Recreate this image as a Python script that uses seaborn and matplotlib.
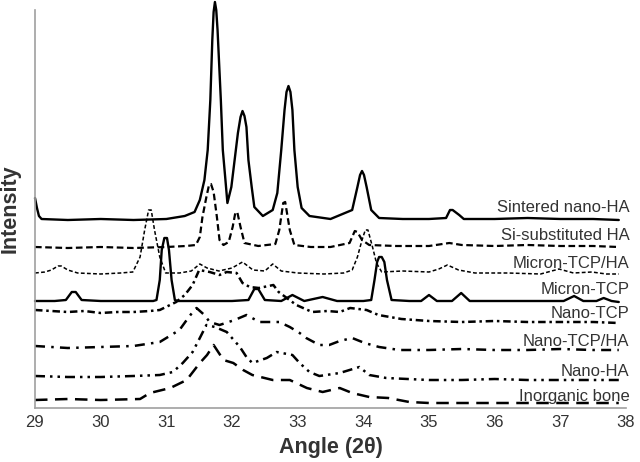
import seaborn as sns
import matplotlib.pyplot as plt

# XRD patterns, intensities (arbitrary units)
angle_sintered = [29.00, 29.03, 29.06, 29.10, 29.5, 30.0, 30.5, 31.0, 31.28, 31.43, 31.51, 31.58,
                  31.63, 31.67, 31.70, 31.72, 31.74, 31.76, 31.78, 31.83, 31.86, 31.90, 31.93,
                  31.99, 32.04, 32.09, 32.13, 32.16, 32.19, 32.22, 32.25, 32.30, 32.34, 32.47,
                  32.62, 32.69, 32.75, 32.80, 32.83, 32.86, 32.89, 32.92, 32.95, 33.00, 33.06,
                  33.18, 33.5, 33.83, 33.91, 33.95, 33.98, 34.01, 34.05, 34.12, 34.24, 34.6,
                  35.0, 35.26, 35.32, 35.36, 35.46, 35.53, 36.0, 36.5, 37.0, 37.5, 37.89]
int_sintered = [210, 200, 192, 189, 188, 189, 188, 189, 192, 196, 208, 228,
                258, 308, 368, 396, 406, 398, 378, 308, 258, 228, 205,
                221, 248, 275, 291, 297, 292, 281, 248, 221, 201, 192,
                198, 215, 258, 298, 316, 322, 316, 298, 258, 221, 200,
                192, 189, 198, 221, 233, 237, 233, 221, 198, 190, 189,
                189, 190, 198, 198, 193, 189, 189, 190, 189, 189, 188]

angle_si = [29.0, 29.5, 30.0, 30.5, 31.0, 31.3, 31.45, 31.51, 31.55, 31.61, 31.65, 31.68, 31.72,
            31.77, 31.81, 31.87, 31.95, 32.01, 32.05, 32.08, 32.13, 32.19, 32.4, 32.66, 32.72,
            32.78, 32.81, 32.88, 32.95, 33.2, 33.5, 33.79, 33.87, 33.91, 33.98, 34.09, 34.5,
            35.0, 35.31, 35.5, 36.0, 36.5, 37.0, 37.5, 37.89]
int_si = [161, 160, 161, 160, 161, 162, 163, 171, 191, 211, 223, 224, 216,
          191, 168, 163, 166, 181, 195, 196, 181, 165, 162, 164, 178,
          205, 206, 178, 163, 161, 161, 165, 177, 176, 168, 163, 162,
          162, 165, 163, 162, 163, 162, 162, 161]

angle_micron_tcp_ha = [29.0, 29.15, 29.25, 29.35, 29.40, 29.5, 29.65, 30.0, 30.3, 30.49, 30.60,
                       30.67, 30.73, 30.77, 30.82, 30.90, 30.99, 31.2, 31.38, 31.51, 31.62, 31.8,
                       32.0, 32.16, 32.32, 32.5, 32.62, 32.75, 33.0, 33.4, 33.7, 33.83, 33.91,
                       33.98, 34.03, 34.07, 34.14, 34.20, 34.28, 34.6, 35.0, 35.15, 35.28, 35.45,
                       35.7, 36.2, 36.7, 36.98, 37.2, 37.48, 37.7, 37.89]
int_micron_tcp_ha = [135, 136, 138, 142, 142, 138, 135, 134, 135, 136, 151,
                     178, 198, 198, 178, 151, 135, 135, 137, 144, 140, 137,
                     140, 146, 138, 137, 144, 137, 135, 134, 135, 138, 151,
                     168, 178, 178, 161, 145, 136, 137, 136, 139, 143, 138,
                     135, 135, 134, 139, 135, 136, 134, 134]

angle_micron_tcp = [29.0, 29.3, 29.47, 29.56, 29.62, 29.71, 30.0, 30.5, 30.80, 30.85, 30.90, 30.93,
                    30.97, 31.01, 31.04, 31.08, 31.13, 31.18, 31.6, 32.0, 32.25, 32.34, 32.40,
                    32.5, 32.75, 32.92, 33.1, 33.38, 33.6, 34.0, 34.12, 34.17, 34.21, 34.24,
                    34.28, 34.32, 34.36, 34.43, 34.7, 34.88, 35.0, 35.12, 35.35, 35.49, 35.62,
                    36.0, 36.5, 37.05, 37.21, 37.35, 37.55, 37.66, 37.78, 37.89]
int_micron_tcp = [107, 107, 108, 116, 116, 108, 107, 107, 107, 108, 128, 158,
                  170, 170, 158, 128, 108, 107, 107, 107, 108, 119, 119,
                  108, 107, 113, 107, 111, 107, 107, 108, 128, 146, 151,
                  151, 146, 128, 108, 107, 107, 113, 107, 107, 115, 107,
                  107, 107, 107, 112, 107, 107, 110, 107, 106]

angle_nano_tcp = [29.0, 29.25, 29.5, 29.75, 30.0, 30.25, 30.5, 30.75, 30.9, 31.15, 31.28, 31.4,
                  31.5, 31.66, 31.81, 31.92, 32.07, 32.16, 32.27, 32.41, 32.63, 32.71, 32.98,
                  33.22, 33.45, 33.64, 33.8, 34.05, 34.23, 34.58, 35.0, 35.5, 36.0, 36.5, 37.0,
                  37.5, 37.89]
int_nano_tcp = [98, 97, 96, 97, 95, 96, 96, 97, 98, 106, 113, 123,
                138, 136, 133, 136, 135, 125, 121, 120, 123, 116, 103,
                96, 97, 96, 100, 98, 93, 89, 87, 86, 87, 86, 86,
                86, 85]

angle_nano_tcp_ha = [29.0, 29.5, 30.0, 30.5, 30.6, 30.9, 31.2, 31.31, 31.39, 31.46, 31.58, 31.66,
                     31.81, 32.04, 32.22, 32.42, 32.72, 32.88, 33.03, 33.13, 33.33, 33.48, 33.64,
                     33.83, 34.02, 34.24, 34.55, 35.0, 35.5, 36.0, 36.5, 37.0, 37.5, 37.89]
int_nano_tcp_ha = [62, 60, 61, 62, 63, 66, 78, 88, 95, 100, 93, 86,
                   83, 88, 93, 86, 86, 81, 75, 70, 63, 63, 67,
                   70, 65, 61, 58, 58, 59, 58, 58, 59, 58, 58]

angle_nano_ha = [29.0, 29.5, 30.0, 30.5, 30.9, 31.1, 31.25, 31.4, 31.51, 31.61, 31.74, 31.92,
                 32.12, 32.22, 32.31, 32.53, 32.68, 32.92, 33.03, 33.18, 33.33, 33.64, 33.94,
                 34.09, 34.35, 35.0, 35.5, 36.0, 36.5, 37.0, 37.5, 37.89]
int_nano_ha = [32, 31, 31, 32, 33, 36, 45, 56, 70, 83, 81, 76,
               61, 51, 45, 50, 56, 53, 45, 36, 32, 35, 41,
               33, 30, 28, 28, 29, 28, 28, 28, 28]

angle_bone = [29.0, 29.5, 30.0, 30.6, 30.75, 31.06, 31.31, 31.51, 31.62, 31.72, 31.87, 32.02,
              32.17, 32.31, 32.62, 32.88, 33.14, 33.38, 33.64, 33.83, 34.09, 34.38, 34.7, 35.0,
              35.5, 36.0, 36.5, 37.0, 37.5, 37.89]
int_bone = [8, 9, 8, 9, 15, 20, 28, 45, 53, 63, 48, 45,
            38, 33, 28, 28, 20, 16, 20, 15, 11, 10, 6, 5,
            5, 5, 5, 5, 5, 5]

sample_names = ['Sintered nano-HA', 'Si-substituted HA', 'Micron-TCP/HA', 'Micron-TCP',
                'Nano-TCP', 'Nano-TCP/HA', 'Nano-HA', 'Inorganic bone']
label_heights = [200, 172, 145, 118, 95, 67, 36, 12]
x_ticks = [29, 30, 31, 32, 33, 34, 35, 36, 37, 38]

curves = [
    (angle_sintered, int_sintered, '-', 1.7),
    (angle_si, int_si, (0, (3, 1.6)), 1.6),
    (angle_micron_tcp_ha, int_micron_tcp_ha, (0, (2.5, 1.5)), 1.1),
    (angle_micron_tcp, int_micron_tcp, '-', 1.7),
    (angle_nano_tcp, int_nano_tcp, (0, (3, 1.5, 1, 1.5)), 1.8),
    (angle_nano_tcp_ha, int_nano_tcp_ha, (0, (4, 2.5, 1, 2.5)), 1.8),
    (angle_nano_ha, int_nano_ha, (0, (4, 2, 1, 2, 1, 2)), 1.8),
    (angle_bone, int_bone, (0, (5, 3)), 1.8),
]

sns.set_style('white')
plt.rcParams['font.family'] = ['Liberation Sans', 'DejaVu Sans']

fig = plt.figure(figsize=(6.4, 4.62), dpi=100)
ax = fig.add_axes([35 / 640, 54 / 462, 591 / 640, 398 / 462])

for xs, ys, ls, lw in curves:
    sns.lineplot(x=xs, y=ys, ax=ax, color='black', linewidth=lw,
                 linestyle=ls, sort=False, estimator=None)
for line in ax.lines:
    line.set_clip_on(False)

for name, h in zip(sample_names, label_heights):
    ax.text(38.05, h, name, ha='right', va='center', fontsize=12, color='#333333')

ax.set_xlim(29, 38)
ax.set_ylim(0, 398)
ax.set_xticks(x_ticks)
ax.set_yticks([])
ax.tick_params(axis='x', length=0, pad=5, labelsize=12, labelcolor='#333333')
ax.set_xlabel('Angle (2θ)', fontsize=15.5, fontweight='bold', color='#333333', labelpad=5)
ax.set_ylabel('Intensity', fontsize=15.5, fontweight='bold', color='#333333', labelpad=10)

for side in ['top', 'right']:
    ax.spines[side].set_visible(False)
for side in ['left', 'bottom']:
    ax.spines[side].set_color('#a0a0a0')
    ax.spines[side].set_linewidth(1.2)

fig.savefig('out.png', dpi=100)
